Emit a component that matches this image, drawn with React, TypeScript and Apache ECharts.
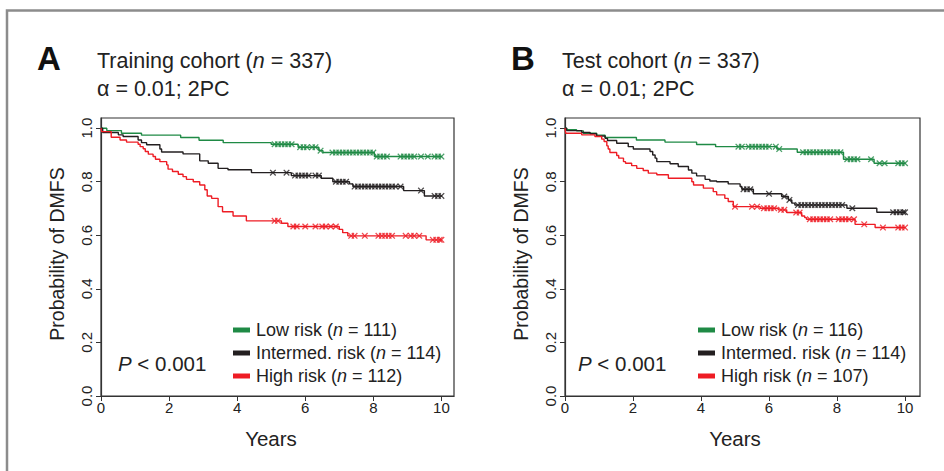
import React, { useEffect, useRef } from 'react';
import * as echarts from 'echarts';

const FONT = '"Liberation Sans", Arial, Helvetica, sans-serif';

const xTicks = [0, 2, 4, 6, 8, 10];
const yTicks = [0, 0.2, 0.4, 0.6, 0.8, 1.0];

const COLORS = { low: '#1f8a45', int: '#231f20', high: '#ee1c24' };

// ---- Panel A: Training cohort ----
const lowA_t = [0.17, 0.6, 1.19, 2.34, 2.88, 3.59, 5.0, 5.79, 6.4, 6.52, 8.03];
const lowA_s = [0.991, 0.981, 0.974, 0.965, 0.955, 0.946, 0.94, 0.929, 0.916, 0.909, 0.894];
const lowA_c = [5.1, 5.2, 5.3, 5.4, 5.5, 5.6, 5.85, 5.95, 6.05, 6.2, 6.3, 6.45, 6.8, 6.9, 7.0, 7.1, 7.2, 7.3, 7.4, 7.5, 7.6, 7.7, 7.8, 7.9, 8.0, 8.1, 8.2, 8.3, 8.4, 8.8, 8.9, 9.0, 9.1, 9.2, 9.4, 9.6, 9.8, 9.9, 10.0];

const intA_t = [0.05, 0.51, 0.65, 1.09, 1.19, 1.34, 1.73, 1.78, 2.41, 2.9, 3.15, 3.44, 3.73, 4.42, 5.59, 6.47, 6.81, 7.3, 7.4, 8.89, 9.5];
const intA_s = [0.984, 0.975, 0.969, 0.956, 0.946, 0.938, 0.922, 0.911, 0.904, 0.878, 0.869, 0.85, 0.845, 0.834, 0.823, 0.813, 0.8, 0.792, 0.782, 0.767, 0.747];
const intA_c = [5.05, 5.45, 5.7, 5.8, 5.9, 6.0, 6.1, 6.3, 6.4, 6.9, 7.0, 7.1, 7.2, 7.45, 7.55, 7.65, 7.75, 7.85, 7.95, 8.05, 8.15, 8.25, 8.35, 8.45, 8.55, 8.65, 8.8, 9.4, 9.8, 9.9, 10.0];

const highA_t = [0.02, 0.3, 0.56, 0.75, 1.09, 1.15, 1.24, 1.3, 1.39, 1.53, 1.6, 1.73, 1.93, 1.97, 2.1, 2.27, 2.41, 2.51, 2.71, 2.9, 3.05, 3.12, 3.25, 3.44, 3.57, 3.88, 4.27, 5.3, 5.49, 7.0, 7.1, 7.25, 9.55];
const highA_s = [0.987, 0.966, 0.956, 0.948, 0.94, 0.931, 0.923, 0.913, 0.903, 0.894, 0.884, 0.875, 0.863, 0.847, 0.838, 0.828, 0.819, 0.809, 0.8, 0.788, 0.77, 0.747, 0.738, 0.707, 0.688, 0.672, 0.654, 0.645, 0.633, 0.622, 0.61, 0.598, 0.583];
const highA_c = [5.1, 5.2, 5.65, 5.75, 6.0, 6.3, 6.5, 6.6, 6.75, 6.9, 7.35, 7.45, 7.75, 8.15, 8.25, 8.35, 8.45, 8.55, 8.95, 9.1, 9.2, 9.35, 9.75, 9.85, 9.95, 10.0];

// ---- Panel B: Test cohort ----
const lowB_t = [0.05, 0.34, 0.54, 0.93, 1.18, 2.1, 2.94, 3.87, 4.43, 6.23, 6.83, 8.19, 9.09];
const lowB_s = [0.994, 0.99, 0.981, 0.974, 0.965, 0.956, 0.948, 0.939, 0.931, 0.922, 0.91, 0.884, 0.869];
const lowB_c = [5.1, 5.2, 5.4, 5.5, 5.6, 5.7, 5.8, 5.9, 6.0, 6.2, 6.3, 7.0, 7.1, 7.2, 7.3, 7.4, 7.5, 7.6, 7.7, 7.8, 7.9, 8.0, 8.1, 8.3, 8.4, 8.5, 8.6, 9.0, 9.25, 9.4, 9.8, 9.9, 10.0];

const intB_t = [0.05, 0.49, 0.74, 0.93, 1.18, 1.25, 1.52, 1.86, 2.01, 2.5, 2.58, 2.65, 2.7, 3.09, 3.33, 3.63, 3.73, 3.87, 4.12, 4.26, 4.46, 4.8, 5.15, 5.2, 5.54, 6.37, 6.57, 6.67, 6.76, 8.29, 9.17];
const intB_s = [0.991, 0.984, 0.979, 0.971, 0.962, 0.954, 0.944, 0.931, 0.922, 0.913, 0.9, 0.888, 0.875, 0.867, 0.857, 0.844, 0.832, 0.822, 0.809, 0.803, 0.8, 0.792, 0.782, 0.772, 0.755, 0.745, 0.732, 0.72, 0.713, 0.701, 0.686];
const intB_c = [5.25, 5.35, 5.45, 6.0, 6.45, 6.6, 6.85, 6.95, 7.05, 7.15, 7.25, 7.35, 7.45, 7.55, 7.65, 7.75, 7.85, 7.95, 8.05, 8.15, 8.45, 9.65, 9.75, 9.85, 9.95, 10.0];

const highB_t = [0.02, 0.49, 0.88, 1.08, 1.15, 1.23, 1.27, 1.32, 1.52, 1.58, 1.72, 1.78, 1.96, 2.11, 2.3, 2.45, 2.7, 3.04, 3.73, 3.78, 4.07, 4.36, 4.46, 4.7, 4.8, 4.95, 5.74, 6.27, 6.52, 6.96, 7.05, 7.1, 8.53, 9.12];
const highB_s = [0.981, 0.975, 0.969, 0.959, 0.95, 0.934, 0.922, 0.909, 0.898, 0.888, 0.875, 0.869, 0.86, 0.85, 0.842, 0.832, 0.826, 0.813, 0.8, 0.788, 0.776, 0.763, 0.751, 0.738, 0.726, 0.707, 0.701, 0.695, 0.685, 0.672, 0.666, 0.66, 0.641, 0.629];
const highB_c = [5.0, 5.5, 5.65, 5.85, 5.95, 6.05, 6.15, 6.35, 6.45, 6.8, 6.9, 7.2, 7.3, 7.4, 7.5, 7.6, 7.7, 7.8, 8.05, 8.15, 8.25, 8.35, 8.5, 8.8, 9.35, 9.8, 9.9, 10.0];

const namesA = ['Low risk (n = 111)', 'Intermed. risk (n = 114)', 'High risk (n = 112)'];
const namesB = ['Low risk (n = 116)', 'Intermed. risk (n = 114) ', 'High risk (n = 107)'];

const CROSS = 'path://M0,1.4L1.4,0L5,3.6L8.6,0L10,1.4L6.4,5L10,8.6L8.6,10L5,6.4L1.4,10L0,8.6L3.6,5Z';

function stepData(t: number[], s: number[], end: number) {
  const d: number[][] = [[0, 1]];
  t.forEach((x, i) => d.push([x, s[i]]));
  d.push([end, s[s.length - 1]]);
  return d;
}
function survAt(t: number[], s: number[], x: number) {
  let v = 1;
  for (let i = 0; i < t.length; i++) if (t[i] <= x) v = s[i];
  return v;
}

function curve(name: string, color: string, idx: number, t: number[], s: number[], c: number[]) {
  return [
    {
      name,
      type: 'line',
      xAxisIndex: idx,
      yAxisIndex: idx,
      step: 'end',
      showSymbol: false,
      color,
      lineStyle: { color, width: 1.4 },
      data: stepData(t, s, 10.02),
      z: 3,
    },
    {
      name: name + ' censored',
      type: 'scatter',
      xAxisIndex: idx,
      yAxisIndex: idx,
      symbol: CROSS,
      symbolSize: 6.5,
      itemStyle: { color },
      data: c.map((x) => [x, survAt(t, s, x)]),
      z: 4,
    },
  ];
}

const axisColor = '#333';

function xAxisCfg(idx: number, max: number) {
  return {
    gridIndex: idx,
    type: 'value',
    min: 0,
    max,
    axisLine: { show: true, onZero: false, lineStyle: { color: axisColor, width: 1.2 } },
    axisTick: { show: true, length: 5, customValues: xTicks, lineStyle: { color: axisColor, width: 1 } },
    axisLabel: { customValues: xTicks, fontSize: 15, color: '#222', margin: 4, fontFamily: FONT },
    splitLine: { show: false },
  };
}
function yAxisCfg(idx: number) {
  return {
    gridIndex: idx,
    type: 'value',
    min: 0,
    max: 1.038,
    axisLine: { show: true, onZero: false, lineStyle: { color: axisColor, width: 1.2 } },
    axisTick: { show: true, length: 5, customValues: yTicks, lineStyle: { color: axisColor, width: 1 } },
    axisLabel: {
      customValues: yTicks,
      rotate: 90,
      fontSize: 15,
      color: '#222',
      margin: 7,
      fontFamily: FONT,
      formatter: (v: number) => v.toFixed(1),
    },
    splitLine: { show: false },
  };
}

const legendFmt = (name: string) => name.trim().replace('(n =', '({i|n} =');

function legendCfg(left: number, data: string[]) {
  return {
    orient: 'vertical',
    left,
    top: 321,
    padding: 0,
    itemWidth: 17,
    itemHeight: 5,
    itemGap: 5,
    icon: 'rect',
    selectedMode: false,
    data,
    formatter: legendFmt,
    textStyle: {
      fontSize: 18,
      color: '#222',
      fontFamily: FONT,
      padding: [0, 0, 0, 1],
      rich: { i: { fontStyle: 'italic', fontSize: 18, color: '#222', fontFamily: FONT } },
    },
  };
}

function txt(x: number, y: number, text: string, size: number, extra: any = {}) {
  return {
    type: 'text',
    x,
    y,
    silent: true,
    style: {
      text,
      fontSize: size,
      fontFamily: FONT,
      fill: '#222',
      verticalAlign: 'middle',
      align: 'left',
      rich: { i: { fontStyle: 'italic', fontSize: size, fontFamily: FONT, fill: '#222' } },
      ...extra,
    },
  };
}

export default function App() {
  const ref = useRef<HTMLDivElement>(null);
  useEffect(() => {
    document.body.style.margin = '0';
    if (!ref.current) return;
    const chart = echarts.init(ref.current, undefined, { renderer: 'svg' });
    const option: any = {
      animation: false,
      backgroundColor: '#fff',
      textStyle: { fontFamily: FONT },
      grid: [
        { left: 101, top: 118, width: 353, height: 278, show: true, borderColor: axisColor, borderWidth: 1.2, backgroundColor: 'transparent' },
        { left: 565, top: 118, width: 355, height: 278, show: true, borderColor: axisColor, borderWidth: 1.2, backgroundColor: 'transparent' },
      ],
      xAxis: [xAxisCfg(0, 10.37), xAxisCfg(1, 10.44)],
      yAxis: [yAxisCfg(0), yAxisCfg(1)],
      legend: [legendCfg(233, namesA), legendCfg(698, namesB)],
      series: [
        ...curve(namesA[0], COLORS.low, 0, lowA_t, lowA_s, lowA_c),
        ...curve(namesA[1], COLORS.int, 0, intA_t, intA_s, intA_c),
        ...curve(namesA[2], COLORS.high, 0, highA_t, highA_s, highA_c),
        ...curve(namesB[0], COLORS.low, 1, lowB_t, lowB_s, lowB_c),
        ...curve(namesB[1], COLORS.int, 1, intB_t, intB_s, intB_c),
        ...curve(namesB[2], COLORS.high, 1, highB_t, highB_s, highB_c),
      ],
      graphic: [
        {
          type: 'rect',
          silent: true,
          shape: { x: 7, y: 10.5, width: 1200, height: 1200 },
          style: { fill: 'none', stroke: '#8c8c8c', lineWidth: 2.5 },
        },
        txt(37, 58, 'A', 33, { fontWeight: 'bold', fill: '#111' }),
        txt(97, 61, 'Training cohort ({i|n} = 337)', 21.5),
        txt(97, 89, 'α = 0.01; 2PC', 21.5),
        txt(511, 58, 'B', 33, { fontWeight: 'bold', fill: '#111' }),
        txt(562, 61, 'Test cohort ({i|n} = 337)', 21.5),
        txt(562, 89, 'α = 0.01; 2PC', 21.5),
        txt(118, 363, '{i|P} < 0.001', 20.5),
        txt(578, 363, '{i|P} < 0.001', 20.5),
        txt(271, 438, 'Years', 20.5, { align: 'center' }),
        txt(735, 438, 'Years', 20.5, { align: 'center' }),
        { ...txt(57, 254, 'Probability of DMFS', 19.5, { align: 'center' }), rotation: Math.PI / 2 },
        { ...txt(521, 254, 'Probability of DMFS', 19.5, { align: 'center' }), rotation: Math.PI / 2 },
      ],
    };
    chart.setOption(option);
    return () => chart.dispose();
  }, []);
  return <div ref={ref} style={{ width: 944, height: 471 }} />;
}
